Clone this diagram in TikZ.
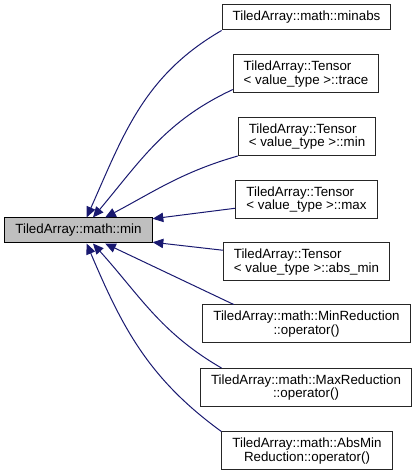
\documentclass[tikz,border=0pt]{standalone}
\usepackage{fontspec}
\setmainfont{Liberation Sans}
\usetikzlibrary{arrows.meta}
\definecolor{edgeblue}{HTML}{191970}
\definecolor{boxgray}{HTML}{BFBFBF}
\tikzset{
    fn box/.style={
        draw=black!85,line width=0.75pt,
        fill=white,
        inner xsep=7.9pt,inner ysep=0pt,
        minimum height=18.75pt,
        font=\fontsize{10}{9.2}\selectfont
    },
    fn box2/.style={fn box,minimum height=28.5pt},
    call/.style={->,draw=edgeblue,line width=0.75pt},
    >={Triangle[length=8pt,width=7pt]}
}
\begin{document}
\begin{tikzpicture}[x=0.75pt,y=0.75pt]
\useasboundingbox (0,0) rectangle (417,475);
% function and its callers
\node[fn box,fill=boxgray,draw=black] (main) at (78.5,244.5) {TiledArray::math::min};
\node[fn box] (minabs) at (306.5,457.5) {TiledArray::math::minabs};
\node[fn box2,align=left] (trace) at (306,401) {TiledArray::Tensor\\< value\_type >::trace};
\node[fn box2,align=left] (tmin) at (307,338.5) {TiledArray::Tensor\\< value\_type >::min};
\node[fn box2,align=left] (tmax) at (306.5,275.5) {TiledArray::Tensor\\< value\_type >::max};
\node[fn box2,align=left] (absmin) at (306.5,213) {TiledArray::Tensor\\< value\_type >::abs\_min};
\node[fn box2,align=center] (minred) at (306.5,151) {TiledArray::math::MinReduction\\::operator()};
\node[fn box2,align=center] (maxred) at (306,87.5) {TiledArray::math::MaxReduction\\::operator()};
\node[fn box2,align=center] (absminred) at (307,24) {TiledArray::math::AbsMin\\Reduction::operator()};
% call edges
\draw[call] (minabs.south west) to[out=210,in=66] (main.58);
\draw[call] (trace.192) to[out=205,in=50] (main.42);
\draw[call] (tmin.south west) to[out=196,in=28] (main.26);
\draw[call] (tmax.187) -- (main.9);
\draw[call] (absmin.172) -- (main.-9);
\draw[call] (minred.165) -- (main.-26);
\draw[call] (maxred.167) to[out=150,in=-48] (main.-42);
\draw[call] (absminred.north west) to[out=144,in=-67] (main.-58);
\end{tikzpicture}
\end{document}
